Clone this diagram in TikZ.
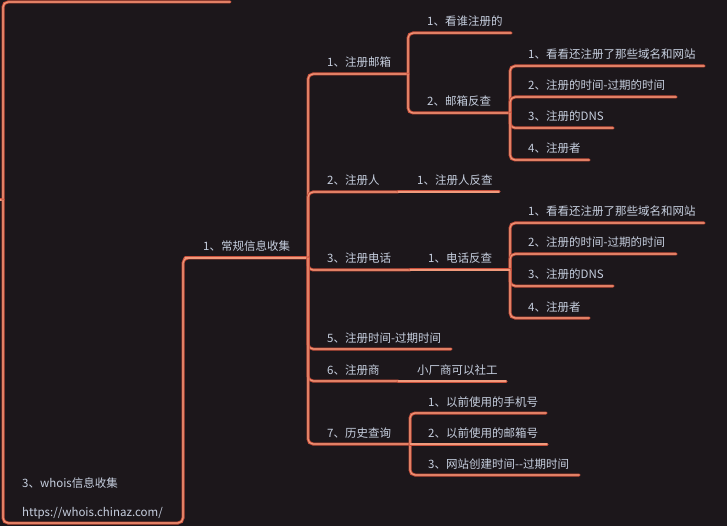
\documentclass[tikz,border=0pt]{standalone}
\usepackage{fontspec}
\setmainfont{Noto Sans CJK SC}
\definecolor{bgc}{HTML}{1C171B}
\definecolor{lineout}{HTML}{C9503C}
\definecolor{linein}{HTML}{F09A7C}
\definecolor{txtc}{HTML}{C6CFDF}
\newcommand\mmnode[6]{%
  \coordinate (#1-s) at (#2,#4);
  \coordinate (#1-e) at (#3,#4);
  \node[txt] (#1) at (#5,#4-7) {#6};
}
\tikzset{
  txt/.style={anchor=base west, inner sep=0pt, text=txtc, font=\fontsize{11.5}{14}\selectfont},
  br/.style={rounded corners=5pt, line width=1.1pt, draw=linein, line cap=round,
             preaction={draw=lineout, line width=3pt, line cap=round}},
}
\begin{document}
\begin{tikzpicture}[x=1pt,y=-1pt]
\fill[bgc] (0,0) rectangle (727,526);
\useasboundingbox (0,0) rectangle (727,526);
% root level
\coordinate (gpin) at (-4,200);
\coordinate (gp) at (3,200);
\coordinate (sib-e) at (230,2);
\coordinate (whois-s) at (3,523);
\coordinate (whois-e) at (183,523);
\node[txt] (whois) at (22,487) {3、whois信息收集};
\node[txt] (url) at (22,516) {https://whois.chinaz.com/};
\mmnode{cg}{185}{308}{258}{203}{1、常规信息收集}
% level under cg
\mmnode{c1}{308}{408}{74}{327}{1、注册邮箱}
\mmnode{c11}{408}{511}{33}{427}{1、看谁注册的}
\mmnode{c12}{408}{510}{113}{427}{2、邮箱反查}
\mmnode{c121}{510}{704}{66}{528}{1、看看还注册了那些域名和网站}
\mmnode{c122}{510}{676}{97}{528}{2、注册的时间-过期的时间}
\mmnode{c123}{510}{613}{128}{528}{3、注册的DNS}
\mmnode{c124}{510}{589}{160}{528}{4、注册者}
\mmnode{c2}{308}{398}{192}{327}{2、注册人}
\mmnode{c21}{398}{499}{192}{417}{1、注册人反查}
\mmnode{c3}{308}{410}{270}{327}{3、注册电话}
\mmnode{c31}{410}{510}{270}{428}{1、电话反查}
\mmnode{c311}{510}{704}{223}{528}{1、看看还注册了那些域名和网站}
\mmnode{c312}{510}{676}{254}{528}{2、注册的时间-过期的时间}
\mmnode{c313}{510}{613}{286}{528}{3、注册的DNS}
\mmnode{c314}{510}{589}{318}{528}{4、注册者}
\mmnode{c5}{308}{451}{349}{327}{5、注册时间-过期时间}
\mmnode{c6}{308}{398}{381}{327}{6、注册商}
\mmnode{c61}{398}{506}{381}{417}{小厂商可以社工}
\mmnode{c7}{308}{410}{444}{327}{7、历史查询}
\mmnode{c71}{410}{546}{413}{428}{1、以前使用的手机号}
\mmnode{c72}{410}{547}{444}{428}{2、以前使用的邮箱号}
\mmnode{c73}{410}{579}{475}{428}{3、网站创建时间-{}-过期时间}
% connectors
\draw[br] (gpin) -- (gp);
\draw[br] (gp) |- (sib-e);
\draw[br] (gp) |- (whois-e) |- (cg-e);
\draw[br] (cg-s) -- (cg-e);
\foreach \p/\c in {cg/c1, cg/c2, cg/c3, cg/c5, cg/c6, cg/c7,
                   c1/c11, c1/c12, c12/c121, c12/c122, c12/c123, c12/c124,
                   c31/c311, c31/c312, c31/c313, c31/c314,
                   c7/c71, c7/c73}
  \draw[br] (\p-e) |- (\c-e);
\foreach \p/\c in {c2/c21, c3/c31, c6/c61, c7/c72}
  \draw[br] (\p-e) -- (\c-e);
\end{tikzpicture}
\end{document}
